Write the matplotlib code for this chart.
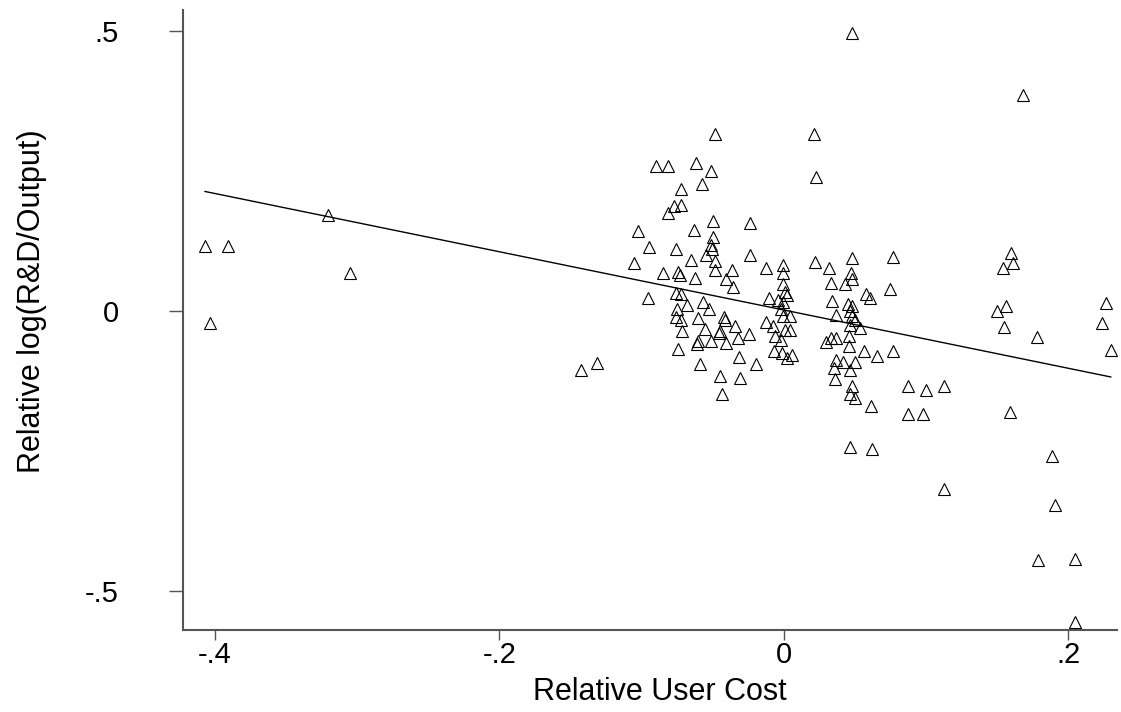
import matplotlib
matplotlib.use("Agg")
import matplotlib.pyplot as plt
import numpy as np

plt.rcParams['font.family'] = ['Liberation Sans', 'DejaVu Sans']

# relative user cost (x) and relative log(R&D/output) (y)
user_cost = [
    -0.4069, -0.3907, -0.3203, -0.3048, -0.4034, -0.1422, -0.1316,
    -0.0485, -0.0897, -0.0815, -0.0614, -0.0514, -0.0720, -0.0572, -0.0774,
    -0.0720, -0.0810, -0.0498, -0.0240, -0.1021, -0.0634, -0.0498, -0.0949,
    -0.0760, -0.0509, -0.0505,
    -0.0240, -0.1055, -0.0650, -0.0544, -0.0485, -0.0849, -0.0740, -0.0732,
    -0.0627, -0.0485, -0.0361, -0.0403, -0.0357, -0.0121, -0.0955, -0.0755,
    -0.0720, -0.0681, -0.0568, -0.0528, -0.0751, -0.0760, -0.0720, -0.0713,
    -0.0603, -0.0556, -0.0420, -0.0415, -0.0340, -0.0247, -0.0455, -0.0451,
    -0.0509, -0.0403, -0.0322, -0.0608, -0.0603, -0.0744, -0.0586, -0.0315,
    -0.0193, -0.0446, -0.0305, -0.0434, -0.0103, -0.0040, -0.0121, -0.0075,
    -0.0064, -0.0070,
    -0.0005, -0.0005, -0.0005, 0.0007, 0.0023, -0.0005, 0.0042, -0.0005,
    0.0007, 0.0047, -0.0016, -0.0011, 0.0062, 0.0023, -0.0016,
    0.0223, 0.0319, 0.0481, 0.0769, 0.0470, 0.0477, 0.0336, 0.0429, 0.0746,
    0.0577, 0.0606, 0.0343, 0.0453, 0.0477, 0.0371, 0.0464, 0.0483, 0.0464,
    0.0500, 0.0535, 0.0296, 0.0336, 0.0366, 0.0457, 0.0457, 0.0565, 0.0657,
    0.0769, 0.0371, 0.0417, 0.0505, 0.0354, 0.0464, 0.0359, 0.0483, 0.0464,
    0.0500, 0.0871, 0.0998, 0.1129, 0.0617, 0.0871, 0.0980, 0.0464, 0.0624,
    0.1127,
    0.0477, 0.0213, 0.0230,
    0.1684, 0.1598, 0.1614, 0.1544, 0.1497, 0.1563, 0.1550, 0.2265, 0.2236,
    0.1779, 0.2300, 0.1591, 0.1888, 0.1908, 0.1786, 0.2048, 0.2048,
]
rel_rd = [
    0.116, 0.116, 0.171, 0.068, -0.021, -0.106, -0.0925,
    0.316, 0.258, 0.259, 0.263, 0.249, 0.218, 0.227, 0.187,
    0.189, 0.175, 0.160, 0.157, 0.142, 0.144, 0.131, 0.113,
    0.110, 0.117, 0.110,
    0.0996, 0.0849, 0.0907, 0.0996, 0.0895, 0.067, 0.070, 0.064,
    0.058, 0.073, 0.073, 0.0564, 0.0432, 0.076, 0.0226, 0.0326,
    0.030, 0.0107, 0.0148, 0.003, 0.003, -0.0112, -0.0173, -0.0368,
    -0.013, -0.0326, -0.0112, -0.016, -0.028, -0.0415, -0.0397, -0.0356,
    -0.0546, -0.0575, -0.0486, -0.0587, -0.0546, -0.0681, -0.0948, -0.083,
    -0.0943, -0.117, -0.120, -0.148, 0.0226, 0.0196, -0.0208, -0.028,
    -0.0457, -0.0724,
    0.0819, 0.067, 0.048, 0.0338, 0.0285, 0.0165, -0.0101, -0.0101,
    -0.0338, -0.0338, -0.0516, -0.0753, -0.0783, -0.0842, 0.0036,
    0.0877, 0.076, 0.0938, 0.0966, 0.067, 0.0564, 0.0493, 0.048, 0.0386,
    0.0302, 0.0226, 0.0178, 0.0119, 0.0089, -0.0071, -0.0012, -0.0101, -0.0249,
    -0.016, -0.0308, -0.0564, -0.0486, -0.0486, -0.0445, -0.0623, -0.0724, -0.0813,
    -0.0712, -0.0872, -0.092, -0.092, -0.102, -0.105, -0.1215, -0.1347, -0.1495,
    -0.1553, -0.1347, -0.1418, -0.1347, -0.1703, -0.1838, -0.1838, -0.2425, -0.246,
    -0.3185,
    0.4952, 0.316, 0.239,
    0.3856, 0.1027, 0.086, 0.076, -0.0012, 0.0077, -0.0285, 0.0137, -0.0214,
    -0.0468, -0.0706, -0.181, -0.2593, -0.347, -0.4443, -0.443, -0.556,
]

# fitted line as it appears in the picture
fit_intercept = 0.0014
fit_slope = -0.520

x_ticks = [-0.4, -0.2, 0, 0.2]
x_ticklabels = ["-.4", "-.2", "0", ".2"]
y_ticks = [-0.5, 0, 0.5]
y_ticklabels = ["-.5", "0", ".5"]

fig = plt.figure(figsize=(11.21, 7.12), dpi=100)
ax = fig.add_axes([183 / 1121, 82 / 712, (1117 - 183) / 1121, (630 - 10) / 712])

ax.plot(user_cost, rel_rd, linestyle='none', marker='^', markersize=8.6,
        markerfacecolor='none', markeredgecolor='k', markeredgewidth=0.8,
        clip_on=False)

xs = np.array([min(user_cost), max(user_cost)])
ax.plot(xs, fit_intercept + fit_slope * xs, color='k', linewidth=1.0)

ax.set_xlim(-0.4224, 0.2344)
ax.set_ylim(-0.570, 0.537)

ax.spines['top'].set_visible(False)
ax.spines['right'].set_visible(False)
for s in ['left', 'bottom']:
    ax.spines[s].set_color('#555555')
    ax.spines[s].set_linewidth(1.5)

ax.set_xticks(x_ticks)
ax.set_xticklabels(x_ticklabels)
ax.set_yticks(y_ticks)
ax.set_yticklabels(y_ticklabels)
ax.tick_params(direction='out', width=1.0, color='#555555', labelsize=21)
ax.tick_params(axis='x', length=7, pad=1)
ax.tick_params(axis='y', length=10, pad=36)

ax.set_xlabel("Relative User Cost", fontsize=22)
ax.set_ylabel("Relative log(R&D/Output)", fontsize=22)
ax.xaxis.set_label_coords(0.51, -0.075)
ax.yaxis.set_label_coords(-0.146, 0.53)

fig.savefig("out.png", dpi=100)
